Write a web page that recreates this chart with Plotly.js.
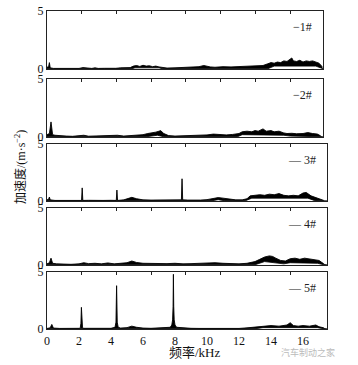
<!DOCTYPE html>
<html><head><meta charset="utf-8">
<script src="https://cdn.plot.ly/plotly-3.0.1.min.js"></script>
<style>html,body{margin:0;padding:0;background:#fff}#plot{width:358px;height:365px}</style>
</head><body><div id="plot"></div>
<script>
// ---- data (kHz, m·s^-2) ----
const p1x = [0,0.1,0.15,0.2,0.4,0.8,1.2,1.6,2.0,2.25,2.5,2.8,3.0,3.2,3.6,4.0,4.3,4.6,4.9,5.2,5.4,5.6,5.8,6.0,6.2,6.4,6.6,6.8,7.0,7.2,7.5,8.0,8.5,9.0,9.5,9.8,10.0,10.2,10.5,11,11.5,12,12.5,13,13.5,13.8,14.0,14.2,14.4,14.6,14.8,15.0,15.2,15.3,15.4,15.6,15.8,16.0,16.2,16.4,16.6,16.8,17.0,17.2];
const p1y = [0.15,0.2,0.55,0.1,0.05,0.04,0.05,0.06,0.05,0.12,0.06,0.05,0.1,0.05,0.06,0.05,0.06,0.1,0.08,0.12,0.25,0.3,0.22,0.32,0.25,0.28,0.2,0.25,0.18,0.12,0.08,0.1,0.12,0.15,0.2,0.3,0.22,0.18,0.15,0.2,0.18,0.2,0.25,0.22,0.3,0.45,0.55,0.5,0.6,0.55,0.7,0.65,0.85,0.95,0.7,0.65,0.75,0.6,0.7,0.65,0.7,0.6,0.5,0.2];
const p1lx = [0,5.3,5.5,7.0,7.2,13.8,14.2,16.8,17.2,17.25];
const p1ly = [0.02,0.02,0.1,0.1,0.02,0.02,0.25,0.25,0.05,0.02];

const p2x = [0,0.15,0.25,0.3,0.35,0.5,0.8,1.2,1.6,2.0,2.3,2.6,3.0,3.4,3.8,4.2,4.4,4.8,5.2,5.6,6.0,6.3,6.6,6.8,7.0,7.1,7.3,7.6,8.0,8.5,9.0,9.5,10.0,10.4,10.8,11.2,11.6,12.0,12.2,12.5,12.8,13.0,13.2,13.4,13.5,13.7,14.0,14.2,14.5,14.8,15.0,15.3,15.6,16.0,16.3,16.6,16.9,17.1];
const p2y = [0.2,0.3,1.3,0.4,0.2,0.15,0.1,0.08,0.06,0.1,0.15,0.07,0.08,0.06,0.12,0.08,0.15,0.08,0.1,0.15,0.2,0.3,0.35,0.42,0.5,0.55,0.3,0.12,0.08,0.1,0.12,0.15,0.18,0.25,0.2,0.18,0.22,0.3,0.45,0.5,0.45,0.55,0.5,0.6,0.7,0.5,0.55,0.45,0.5,0.35,0.3,0.32,0.28,0.3,0.38,0.3,0.25,0.1];
const p2lx = [0,6.2,6.9,7.3,11.9,12.2,14.8,15.2,17.1,17.25];
const p2ly = [0.02,0.02,0.15,0.02,0.02,0.2,0.15,0.08,0.02,0.02];

const p3x = [0,0.1,0.15,0.2,0.5,1.0,1.5,2.0,2.16,2.2,2.24,2.6,3.0,3.5,4.0,4.33,4.37,4.41,4.8,5.1,5.3,5.6,6.0,6.5,7.0,7.5,8.0,8.3,8.4,8.44,8.48,8.8,9.2,9.6,10.0,10.4,10.7,11.0,11.4,11.8,12.2,12.5,12.7,13.0,13.3,13.6,13.9,14.2,14.5,14.8,15.1,15.4,15.7,16.0,16.2,16.5,16.8,17.0,17.3];
const p3y = [0.1,0.15,0.35,0.1,0.05,0.04,0.05,0.06,0.05,1.15,0.05,0.06,0.08,0.05,0.06,0.05,0.96,0.05,0.1,0.25,0.32,0.2,0.1,0.08,0.1,0.08,0.12,0.15,0.1,1.95,0.1,0.08,0.06,0.08,0.12,0.2,0.3,0.25,0.15,0.1,0.1,0.2,0.45,0.5,0.55,0.5,0.6,0.55,0.65,0.5,0.45,0.5,0.45,0.7,0.75,0.45,0.3,0.15,0.05];
const p3lx = [0,10.3,10.7,11.1,12.4,12.8,16.3,16.7,17.3,17.5];
const p3ly = [0.02,0.02,0.12,0.02,0.02,0.25,0.25,0.05,0.02,0.02];

const p4x = [0,0.15,0.25,0.3,0.35,0.6,1.0,1.5,2.0,2.3,2.6,3.0,3.4,3.8,4.2,4.6,5.0,5.3,5.6,6.0,6.5,7.0,7.5,8.0,8.5,9.0,9.5,10.0,10.5,11.0,11.5,12.0,12.5,13.0,13.3,13.6,13.9,14.1,14.3,14.6,14.9,15.2,15.5,15.8,16.1,16.4,16.7,17.0,17.3];
const p4y = [0.1,0.2,0.6,0.25,0.15,0.1,0.08,0.06,0.1,0.2,0.12,0.15,0.1,0.18,0.1,0.15,0.2,0.35,0.22,0.15,0.12,0.1,0.12,0.15,0.1,0.12,0.15,0.12,0.2,0.15,0.12,0.1,0.15,0.3,0.5,0.7,0.8,0.75,0.6,0.4,0.35,0.55,0.6,0.5,0.6,0.55,0.5,0.4,0.1];
const p4lx = [0,13.0,13.6,14.4,14.8,15.2,16.9,17.3,17.5];
const p4ly = [0.02,0.02,0.3,0.2,0.1,0.2,0.15,0.02,0.02];

const p5x = [0,0.2,0.3,0.4,0.8,1.2,1.6,2.02,2.08,2.12,2.15,2.18,2.22,2.3,2.8,3.2,3.6,4.0,4.25,4.31,4.35,4.39,4.45,4.6,5.0,5.3,5.6,6.0,6.5,7.0,7.4,7.7,7.8,7.85,7.88,7.9,7.92,7.95,8.0,8.1,8.4,9.0,9.5,10.0,10.5,11.0,11.5,12.0,12.5,13.0,13.5,14.0,14.5,15.0,15.2,15.4,15.7,16.0,16.4,16.8,17.0,17.3];
const p5y = [0.05,0.1,0.4,0.08,0.05,0.04,0.05,0.06,0.12,0.5,1.9,0.5,0.12,0.06,0.05,0.04,0.05,0.06,0.15,0.6,3.8,0.6,0.15,0.08,0.12,0.25,0.15,0.08,0.06,0.08,0.1,0.15,0.35,0.8,2.0,4.8,2.0,0.8,0.35,0.15,0.1,0.06,0.05,0.04,0.05,0.04,0.05,0.05,0.1,0.15,0.2,0.3,0.25,0.35,0.55,0.3,0.25,0.3,0.25,0.35,0.2,0.1];
const p5lx = [0,13.0,13.5,16.9,17.3,17.5];
const p5ly = [0.02,0.02,0.12,0.12,0.02,0.02];

const panelLabels = ['\u22121#','\u22122#','\u2014 3#','\u2014 4#','\u2014 5#'];
const xTickVals = [0,2,4,6,8,10,12,14,16];
const xTickText = ['0','2','4','6','8','10','12','14','16'];
const topTickVals = [2.17,4.34,6.51,8.68,10.85,13.02,15.19];
const yTickVals = [0,5];
const yTickText = ['0','5'];

// ---- build ----
const panels = [[p1x,p1y,p1lx,p1ly],[p2x,p2y,p2lx,p2ly],[p3x,p3y,p3lx,p3ly],[p4x,p4y,p4lx,p4ly],[p5x,p5y,p5lx,p5ly]];
const W = 358, H = 365;
const yPx = [[11,69],[79,137],[144,201],[208,265],[272,329]];
const xRight = [323,323,327,327,327];
const xMax = [17.25,17.25,17.5,17.5,17.5];
const FONT = 'Liberation Serif, Times New Roman, Noto Sans CJK SC, serif';
const traces = [];
const layout = {
  width: W, height: H, margin:{l:0,r:0,t:0,b:0},
  paper_bgcolor:'#fff', plot_bgcolor:'#fff', showlegend:false,
  font:{family:FONT, size:12, color:'#111'},
  annotations:[]
};
panels.forEach((p,i)=>{
  const n = i+1, xs = n===1?'':String(n);
  const xa = 'x'+xs, ya = 'y'+xs;
  traces.push({x:p[2], y:p[3], xaxis:xa, yaxis:ya, mode:'lines', line:{color:'#000', width:0.8}, hoverinfo:'skip'});
  traces.push({x:p[0], y:p[1], xaxis:xa, yaxis:ya, mode:'lines', fill:'tonexty', fillcolor:'#000', line:{color:'#000', width:0.9}, hoverinfo:'skip'});
  const isLast = n===5;
  const xaxis = {
    domain:[47/W, xRight[i]/W], anchor:ya, range:[0,xMax[i]],
    showline:true, mirror:true, linecolor:'#222', linewidth:1.2,
    showgrid:false, zeroline:false,
    side: isLast ? 'bottom' : 'top',
    tickmode:'array',
    tickvals: isLast ? xTickVals : topTickVals,
    showticklabels: isLast,
    ticks: isLast ? '' : 'inside', ticklen:3, tickcolor:'#222', tickwidth:1,
    tickfont:{family:FONT, size:12, color:'#111'}
  };
  if (isLast) xaxis.ticktext = xTickText;
  layout['xaxis'+xs] = xaxis;
  layout['yaxis'+xs] = {
    domain:[1-yPx[i][1]/H, 1-yPx[i][0]/H], anchor:xa, range:[0,5],
    showline:true, mirror:true, linecolor:'#222', linewidth:1.2,
    showgrid:false, zeroline:false, tickmode:'array', tickvals:yTickVals, ticktext:yTickText,
    ticks:'', tickfont:{family:FONT, size:12, color:'#111'}
  };
  layout.annotations.push({xref:'paper', yref:'paper', x:(xRight[i]-9)/W, y:1-(yPx[i][0]+16)/H,
    xanchor:'right', yanchor:'middle', text:panelLabels[i], showarrow:false,
    font:{family:FONT, size:12, color:'#222'}});
});
// top tick marks on the last panel via overlay axis
layout.xaxis6 = {domain:[47/W, 327/W], anchor:'y5', overlaying:'x5', side:'top', range:[0,17.5],
  showline:false, showgrid:false, zeroline:false, tickmode:'array', tickvals:topTickVals,
  showticklabels:false, ticks:'inside', ticklen:3, tickcolor:'#222', tickwidth:1};
traces.push({x:[0], y:[0], xaxis:'x6', yaxis:'y5', mode:'markers', marker:{opacity:0}, hoverinfo:'skip'});

layout.annotations.push({xref:'paper', yref:'paper', x:195/W, y:1-352/H, text:'频率/kHz', showarrow:false,
  font:{family:FONT, size:13, color:'#111'}, xanchor:'center', yanchor:'middle'});
layout.annotations.push({xref:'paper', yref:'paper', x:20/W, y:1-167/H, text:'加速度/(m·s<sup>−2</sup>)', textangle:-90,
  showarrow:false, font:{family:FONT, size:12, color:'#111'}, xanchor:'center', yanchor:'middle'});
layout.annotations.push({xref:'paper', yref:'paper', x:308/W, y:1-352/H, text:'汽车制动之家', showarrow:false,
  font:{family:'Noto Sans CJK SC, sans-serif', size:9, color:'#bbb'}, xanchor:'center', yanchor:'middle'});

Plotly.newPlot('plot', traces, layout, {staticPlot:true, displayModeBar:false});
</script></body></html>
